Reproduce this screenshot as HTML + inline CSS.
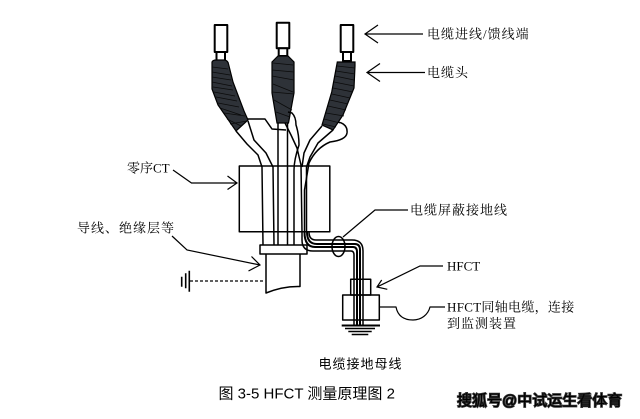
<!DOCTYPE html>
<html><head><meta charset="utf-8"><style>
html,body{margin:0;padding:0;background:#fff;}
svg{display:block;}
.l{font-family:"Liberation Serif","Noto Serif CJK SC",serif;font-size:13px;letter-spacing:1px;fill:#000;}
.c{font-family:"Liberation Sans","Noto Sans CJK SC",sans-serif;fill:#000;}
</style></head><body>
<svg width="640" height="419" viewBox="0 0 640 419" xmlns="http://www.w3.org/2000/svg">
<rect width="640" height="419" fill="#fff"/>
<g fill="none" stroke="#000" stroke-width="1.5" stroke-linejoin="round">
<rect x="214.7" y="25" width="12.6" height="27" stroke-width="2" fill="#fff"/>
<rect x="216.5" y="52" width="8.5" height="9" stroke-width="2" fill="#fff"/>
<rect x="276.7" y="22.7" width="12.6" height="25.6" stroke-width="2" fill="#fff"/>
<rect x="278.7" y="48.3" width="8.6" height="7.7" stroke-width="2" fill="#fff"/>
<rect x="340.7" y="25" width="12.6" height="27" stroke-width="2" fill="#fff"/>
<rect x="343" y="52" width="8" height="9" stroke-width="2" fill="#fff"/>
</g>
<g fill="#2e3238" stroke="#000" stroke-width="1.2">
<path d="M212,62 Q213,60 216,60 L225,60 Q228,61 228.5,64 L233,82 L244,111 L248,120 L236,131 L218,105 L212,89 Z"/>
<path d="M278,56 L288,56 L294,62 L294,93 L288.5,123 L277,123 L272,93 L272,62 Z"/>
<path d="M337.3,62 L355,62 L355,66 L354,88 L343,115 L333,130 L322,125 L331.7,92 Z"/>
</g>
<g stroke="#0b0b0b" stroke-width="0.8" fill="none">
<path d="M212,67 L228,69 M212,72 L230,75 M212,77 L231,80 M212,82 L232,86 M213,87 L233,90 M214,92 L235,96 M216,97 L237,101 M218,103 L239,107 M220,108 L241,115 M224,113 L245,116 M227,119 L241,126 M230,124 L247,121"/>
<path d="M273,63 L293,65 M272,70 L294,72 M272,76 L294,80 M273,84 L293,92 M272,92 L294,94 M274,100 L292,110 M276,112 L290,117"/>
<path d="M337,66 L355,68 M336,71 L355,74 M335,76 L354,80 M334,82 L354,86 M333,88 L353,92 M332,94 L350,98 M330,100 L348,104 M328,106 L346,110 M326,113 L344,116 M324,119 L340,123 M323,124 L336,127"/>
</g>
<g fill="none" stroke="#000" stroke-width="1.5" stroke-linejoin="round">
<path d="M236,131 L247,144 L258,155 L262,167 L263,245"/>
<path d="M248,121 L254,140 L266,153 L273,167 L274,245"/>
<path d="M247,119 L265,119 L272,129 L286,130"/>
<path d="M278,123 L278,245"/>
<path d="M287.5,123 L287.5,245"/>
<path d="M288,112 L292,113 Q296,117 296,125 Q299,134 299,145 Q294,160 294,170 L294,245"/>
<path d="M285,123 L291,135 L297,148 L301,165 L302,232"/>
<path d="M322,126 L310,140 L304,153 L302,167"/>
<path d="M333,130 L318,143 L310,157 L306.5,167 L306.5,232"/>
<path d="M338,122 Q348,124 347,133 Q346,140 330,142 Q316,148 309,163 L304.5,190 L304.5,232"/>
<rect x="239.3" y="166" width="90.5" height="65.7"/>
<rect x="260" y="245" width="47" height="9" fill="#fff"/>
<path d="M266,254 L266,293 Q283,286 300,286.5 L300,254"/>
<path d="M302,232 L302,240 Q302,251 313,251 L351,251 Q354,251 354,255 L354,326"/>
<path d="M304.5,232 Q304.5,247 315,247 L353,247 Q357,247 357,252 L357,326" stroke-width="2"/>
<path d="M307,232 Q307,244 317,244 L355,244 Q360,244 360,250 L360,326" stroke-width="2"/>
<path d="M309,232 Q309,240 316,240 L352,240 Q363,240 363,251 L363,326"/>
<ellipse cx="338.5" cy="246.5" rx="6.5" ry="10" fill="none"/>
<rect x="350.7" y="279.3" width="20" height="15.7"/>
<rect x="342.7" y="295" width="36.6" height="25"/>
<path d="M341.7,325.5 L380,325.5" stroke-width="2"/>
<path d="M345,328.5 L375,328.5 M348.3,331.5 L371.7,331.5 M351.7,334.5 L368.3,334.5"/>
<path d="M379,307 L396,307 C398,317 405,320 413,320 C421,320 428,315 430,307 L445,307" stroke-width="1.2"/>
</g>
<g fill="none" stroke="#000" stroke-width="1.2">
<path d="M365,34 L423,34 M378,25 L365,34 L378,43"/>
<path d="M367,72.5 L425,72.5 M380,63.5 L367,72.5 L380,81.5"/>
<path d="M173,170 L191.5,183 L237,183 M227.5,176 L237,183 L227.5,189.5"/>
<path d="M172,236 L187,250 L260,265 M251.5,256.5 L260,265 L248.5,271"/>
<path d="M343,237 L375,210 L408,210"/>
<path d="M377,287 L420,266 L443,266 M381.7,280 L377,287 L387.3,289.3"/>
<path d="M190,281 L265,281" stroke-dasharray="3,2"/>
<path d="M181.7,276.7 L181.7,286.7 M185.7,273.3 L185.7,288.3 M189.3,270.7 L189.3,291.7" stroke-width="1.6"/>
</g>
<text class="l" x="427" y="38.5">电缆进线/馈线端</text>
<text class="l" x="427" y="77">电缆头</text>
<text class="l" x="127" y="172.5" style="letter-spacing:0">零序CT</text>
<text class="l" x="77" y="232.5">导线、绝缘层等</text>
<text class="l" x="410" y="214.5">电缆屏蔽接地线</text>
<text class="l" x="447" y="270.5" style="letter-spacing:0">HFCT</text>
<text class="l" x="447" y="311.5" style="letter-spacing:0.3px">HFCT同轴电缆，连接</text>
<text class="l" x="447" y="328">到监测装置</text>
<text class="c" x="318.5" y="368.5" font-size="13" style="letter-spacing:1px">电缆接地母线</text>
<text class="c" x="218.5" y="398.5" font-size="15">图 3-5 HFCT 测量原理图 2</text>
<text class="c" x="457" y="405.5" font-size="15" fill="#e8e8e8" stroke="#333" stroke-width="1.6" paint-order="stroke">搜狐号@中试运生看体育</text>
</svg>
</body></html>
